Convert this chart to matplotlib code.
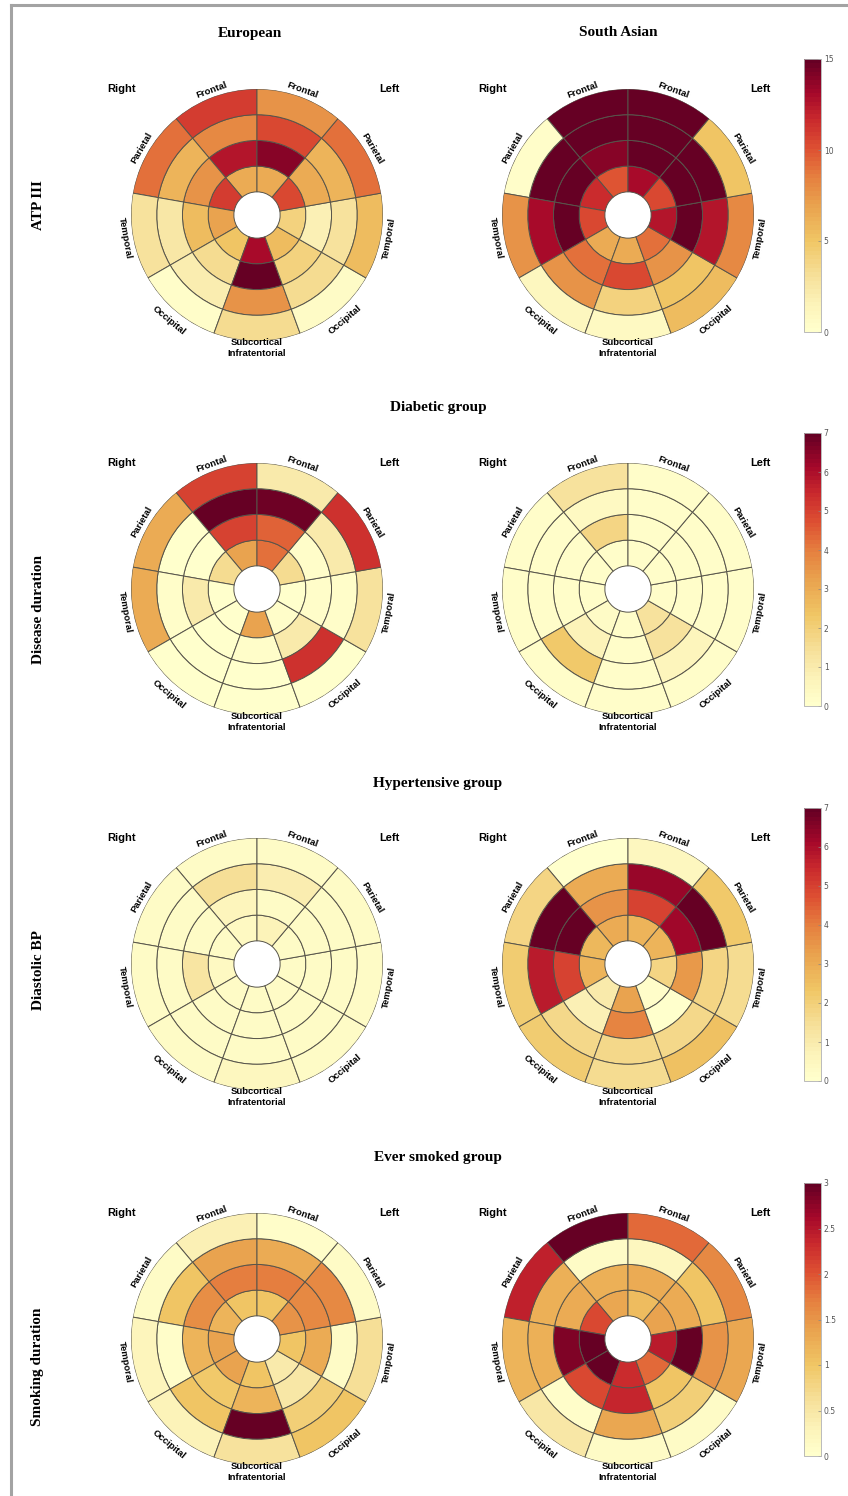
import numpy as np
import matplotlib
matplotlib.use("Agg")
from matplotlib import pyplot as plt
from matplotlib.colors import LinearSegmentedColormap, Normalize
from matplotlib.cm import ScalarMappable
from matplotlib.lines import Line2D
from matplotlib.ticker import FuncFormatter

# sectors counter-clockwise from the top: right hemisphere first, then left
sectors = ["Frontal", "Parietal", "Temporal", "Occipital",
           "Subcortical\nInfratentorial", "Occipital", "Temporal", "Parietal", "Frontal"]
columns = ["European", "South Asian"]
rows = ["ATP III", "Disease duration", "Diastolic BP", "Smoking duration"]
groups = [None, "Diabetic group", "Hypertensive group", "Ever smoked group"]

# values per sector, rings inner -> outer
atp_eur = [[6.5, 12.5, 8, 11], [11, 7.5, 6, 9], [7, 5.5, 2.5, 3], [5, 3.5, 2, 0.3],
           [13, 15, 7.5, 3.5], [5.5, 4, 3.3, 0.5], [4, 1.8, 3, 5.5], [10.5, 6.5, 6, 9],
           [6.5, 14, 10.5, 7.5]]
atp_sa = [[10, 14, 15, 15], [11.5, 15, 15, 0.3], [10.5, 15, 13, 7.5], [6.5, 9, 7.5, 1],
          [6.5, 10.5, 4, 0.8], [9, 7.5, 5, 5.5], [12.5, 15, 12.5, 8], [10.5, 15, 15, 5],
          [13, 15, 15, 15]]
dis_eur = [[3.2, 5, 7, 5], [1.6, 0.1, 0.1, 3], [0.1, 1, 0.2, 3], [0.1, 0.1, 0.1, 0.1],
           [3.2, 0.2, 0.1, 0.1], [0.2, 1, 5.3, 0.1], [0.1, 0.2, 0.2, 1.4], [1.6, 0.2, 1, 5.3],
           [4.2, 4.4, 6.8, 1]]
dis_sa = [[0.2, 1.8, 0.4, 1.4], [0.2, 0.2, 0.2, 0.2], [0.2, 0.2, 0.2, 0.2], [0.3, 0.7, 2.2, 0.2],
          [0.2, 0.2, 0.2, 0.2], [1.4, 1.4, 0.6, 0.2], [0.2, 0.2, 0.2, 0.2], [0.2, 0.2, 0.2, 0.2],
          [0.2, 0.2, 0.2, 0.2]]
dbp_eur = [[0.4, 0.6, 1.5, 0.3], [0.3, 0.3, 0.3, 0.3], [0.4, 1.3, 0.3, 0.3], [0.3, 0.3, 0.3, 0.3],
           [0.3, 0.3, 0.3, 0.5], [0.3, 0.3, 0.3, 0.3], [0.3, 0.3, 0.3, 0.3], [0.3, 0.3, 0.3, 0.3],
           [0.7, 0.3, 0.9, 0.3]]
dbp_sa = [[3, 3.5, 3, 0.1], [2.7, 6.9, 7, 1.8], [2.8, 5, 5.7, 2.1], [1, 0.8, 1.7, 2.1],
          [3.2, 3.9, 1.7, 1.6], [0.2, 0.1, 1.7, 2.5], [1.8, 3.4, 1.8, 1.6], [2.8, 6.2, 7, 2.2],
          [2.8, 5, 6.3, 0.5]]
smk_eur = [[1.0, 1.7, 1.4, 0.35], [1.2, 1.55, 1.0, 0.1], [1.4, 1.2, 0.05, 0.25], [1.4, 0.95, 1.0, 0.3],
           [1.0, 1.2, 3, 0.6], [0.45, 0.5, 0.85, 1.0], [1.0, 1.3, 0.1, 0.65], [1.5, 1.6, 1.6, 0.1],
           [1.0, 1.7, 1.3, 0.05]]
smk_sa = [[1.35, 1.25, 0.1, 3], [2.1, 1.3, 1.25, 2.4], [3, 2.85, 1.25, 1.2], [3, 2.1, 0.05, 0.5],
          [2.3, 2.35, 1.35, 0.1], [1.85, 1.0, 0.85, 0.1], [2.45, 3, 1.5, 1.35], [1.4, 1.3, 1.0, 1.6],
          [1.1, 1.3, 0.2, 1.85]]

panels = [[atp_eur, atp_sa], [dis_eur, dis_sa], [dbp_eur, dbp_sa], [smk_eur, smk_sa]]
vmax = [15, 7, 7, 3]
cbar_ticks = [[0, 5, 10, 15], list(range(8)), list(range(8)), [0, 0.5, 1, 1.5, 2, 2.5, 3]]

cmap = LinearSegmentedColormap.from_list("brain", [
    (0.0, "#FFFFCC"), (0.1, "#FCF2B8"), (0.2, "#F6E09A"), (0.33, "#F0C665"),
    (0.47, "#E9A04D"), (0.57, "#E57F3F"), (0.67, "#DE5233"), (0.78, "#CA2A2D"),
    (0.88, "#A5082A"), (1.0, "#660024")], N=64)

W, H = 848, 1496
fig = plt.figure(figsize=(W / 100, H / 100), dpi=100)
fig.patch.set_facecolor("white")

# screenshot frame
fig.add_artist(Line2D([11 / W, 11 / W], [0, 1 - 5 / H], color="#A3A3A3", lw=2.2))
fig.add_artist(Line2D([11 / W, 1], [1 - 5 / H, 1 - 5 / H], color="#A3A3A3", lw=2.2))

cx = [257, 628]
cy = [215, 589, 964, 1339]
R = 126  # outer radius in px
r_edges = [0.9, 1.9, 2.9, 3.9, 4.9]
px = R / r_edges[-1]

width = np.deg2rad(40)
centers = np.deg2rad(110 + 40 * np.arange(9))
label_r = [133, 133.5, 134, 137, 133, 137, 134, 133.5, 133]

serif = dict(family="Liberation Serif", weight="bold", fontsize=11)
sans = dict(family="Liberation Sans", weight="bold")

for i in range(4):
    norm = Normalize(0, vmax[i])
    for j in range(2):
        ax = fig.add_axes([(cx[j] - R) / W, 1 - (cy[i] + R) / H, 2 * R / W, 2 * R / H],
                          projection="polar")
        vals = np.array(panels[i][j])
        for k in range(4):
            ax.bar(centers, r_edges[k + 1] - r_edges[k], width=width, bottom=r_edges[k],
                   color=cmap(norm(vals[:, k])), edgecolor="#57544a", linewidth=0.7,
                   align="center")
        ax.set_ylim(0, r_edges[-1])
        ax.axis("off")

        for name, th, lr in zip(sectors, centers, label_r):
            a = np.rad2deg(th) % 360
            rot = a - 90 if a <= 180 else a + 90
            ax.text(th, lr / px, name, rotation=rot % 360, rotation_mode="anchor",
                    ha="center", va="center", fontsize=6.8, linespacing=1.3,
                    clip_on=False, **sans)
        ax.text(np.deg2rad(137), 185 / px, "Right", ha="center", va="center",
                fontsize=8, clip_on=False, **sans)
        ax.text(np.deg2rad(43.7), 182.5 / px, "Left", ha="center", va="center",
                fontsize=8, clip_on=False, **sans)

    cax = fig.add_axes([804 / W, 1 - (cy[i] + 117) / H, 17 / W, 273 / H])
    cb = fig.colorbar(ScalarMappable(norm=norm, cmap=cmap), cax=cax, ticks=cbar_ticks[i])
    cb.outline.set_edgecolor("#B0B0B0")
    cb.outline.set_linewidth(0.6)
    cax.tick_params(direction="in", length=2, width=0.5, color="#888888",
                    labelsize=5.5, labelcolor="#555555", pad=2)
    cax.yaxis.set_major_formatter(FuncFormatter(lambda v, p: f"{v:g}"))

    fig.text(38 / W, 1 - [205, 610, 970, 1367][i] / H, rows[i], rotation=90,
             ha="center", va="center", **serif)
    if groups[i]:
        fig.text(438 / W, 1 - (cy[i] - 181) / H, groups[i], ha="center", va="center", **serif)

fig.text(250 / W, 1 - 33 / H, columns[0], ha="center", va="center", **serif)
fig.text(618 / W, 1 - 33 / H, columns[1], ha="center", va="center", **serif)

fig.savefig("out.png", dpi=100)
